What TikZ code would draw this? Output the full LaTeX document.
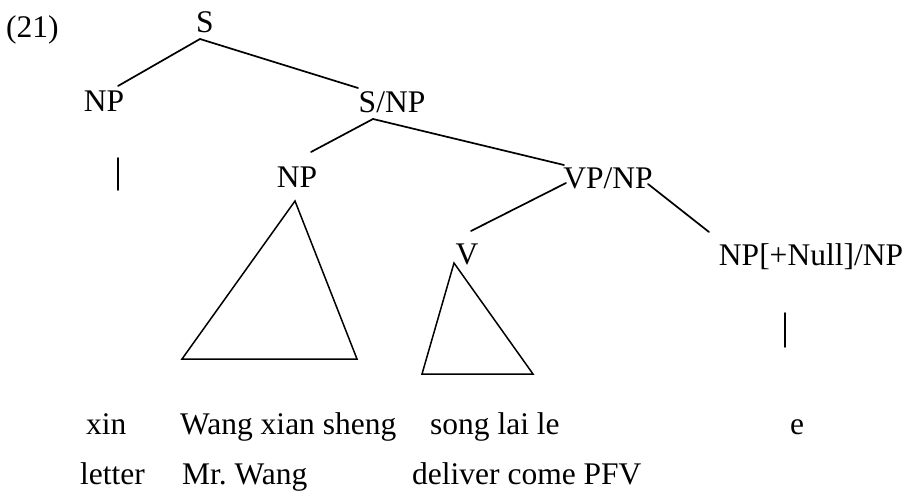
\documentclass[tikz,border=0pt]{standalone}
\usepackage{fontspec}
\setmainfont{Liberation Serif}
\begin{document}
\begin{tikzpicture}[x=1pt,y=-1pt,
  lbl/.style={font=\fontsize{31.5}{36}\selectfont, inner sep=0pt, anchor=base},
  wrd/.style={font=\fontsize{31.5}{36}\selectfont, inner sep=0pt, anchor=base west},
  edge/.style={line width=1.7pt, line cap=round, line join=round},
  tri/.style={line width=1.5pt, line join=miter}]
\useasboundingbox (0,0) rectangle (909,492);

% example number
\node[lbl, anchor=base west] (num) at (6,38) {(21)};

% category labels
\node[lbl] (S)     at (205,33)  {S};
\node[lbl] (NPa)   at (104,112) {NP};
\node[lbl] (SNP)   at (392,113) {S/NP};
\node[lbl] (NPb)   at (297,187) {NP};
\node[lbl] (VPNP)  at (608,188) {VP/NP};
\node[lbl] (V)     at (467,264) {V};
\node[lbl] (NPnul) at (811,265) {NP[+Null]/NP};

% attachment points of the branches
\coordinate (S-b)    at (200,39);
\coordinate (NPa-t)  at (118,86);
\coordinate (SNP-t)  at (358,88);
\coordinate (SNP-b)  at (373,119);
\coordinate (NPb-t)  at (311,152);
\coordinate (VPNP-t) at (564,165);
\coordinate (VPNP-l) at (566,183);
\coordinate (VPNP-r) at (648,184);
\coordinate (V-t)    at (471,231);
\coordinate (NPnul-t) at (709,232);

% branches
\draw[edge] (S-b) -- (NPa-t);
\draw[edge] (S-b) -- (SNP-t);
\draw[edge] (SNP-b) -- (NPb-t);
\draw[edge] (SNP-b) -- (VPNP-t);
\draw[edge] (VPNP-l) -- (V-t);
\draw[edge] (VPNP-r) -- (NPnul-t);

% unary bars
\coordinate (barA-t) at (118,158);
\coordinate (barA-b) at (118,190);
\coordinate (barB-t) at (785,313);
\coordinate (barB-b) at (785,347);
\draw[edge] (barA-t) -- (barA-b);
\draw[edge] (barB-t) -- (barB-b);

% roof triangles
\coordinate (triA-apex) at (295,201);
\coordinate (triA-l)    at (182,359);
\coordinate (triA-r)    at (357,359);
\coordinate (triB-apex) at (454,263);
\coordinate (triB-l)    at (422,374);
\coordinate (triB-r)    at (533,374);
\draw[tri] (triA-apex) -- (triA-l) -- (triA-r) -- cycle;
\draw[tri] (triB-apex) -- (triB-l) -- (triB-r) -- cycle;

% words
\node[wrd] (w1) at (86,434)  {xin};
\node[wrd] (w2) at (180,434) {Wang xian sheng};
\node[wrd] (w3) at (430,434) {song lai le};
\node[wrd] (w4) at (790,434) {e};

% glosses
\node[wrd] (g1) at (80,484)  {letter};
\node[wrd] (g2) at (182,484) {Mr.\ Wang};
\node[wrd] (g3) at (412,484) {deliver come PFV};
\end{tikzpicture}
\end{document}
